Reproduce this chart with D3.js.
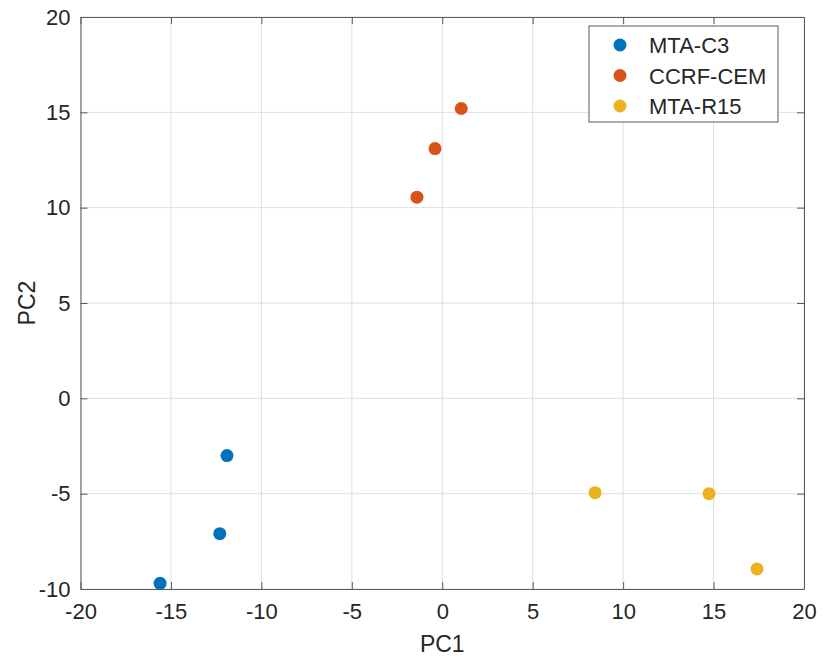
<!DOCTYPE html>
<html>
<head>
<meta charset="utf-8">
<script src="https://cdn.jsdelivr.net/npm/d3@7"></script>
<style>
  body { margin: 0; background: #fff; }
  text { font-family: "Liberation Sans", Arial, sans-serif; fill: #262626; }
</style>
</head>
<body>
<svg id="scatter" width="824" height="659"></svg>
<script>
// groups and their PCA scores
const groups = ['MTA-C3', 'CCRF-CEM', 'MTA-R15'];
const colors = ['#0072BD', '#D95319', '#EDB120'];
const pc1 = [
  [-15.6, -11.9, -12.3],
  [1.05, -0.4, -1.4],
  [8.45, 14.75, 17.4]
];
const pc2 = [
  [-9.7, -3.0, -7.1],
  [15.2, 13.1, 10.55],
  [-4.95, -5.0, -8.95]
];
const xTicks = [-20, -15, -10, -5, 0, 5, 10, 15, 20];
const yTicks = [-10, -5, 0, 5, 10, 15, 20];

const svg = d3.select('#scatter');
const margin = { top: 17, left: 80.5 };
const innerWidth = 804 - margin.left;
const innerHeight = 589 - margin.top;

const x = d3.scaleLinear().domain([-20, 20]).range([0, innerWidth]);
const y = d3.scaleLinear().domain([-10, 20]).range([innerHeight, 0]);

const g = svg.append('g')
    .attr('transform', `translate(${margin.left},${margin.top})`);

// grid
g.append('g')
    .selectAll('line')
    .data(xTicks)
    .join('line')
    .attr('x1', d => x(d)).attr('x2', d => x(d))
    .attr('y1', 0).attr('y2', innerHeight)
    .attr('stroke', '#dfdfdf').attr('stroke-width', 1);
g.append('g')
    .selectAll('line')
    .data(yTicks)
    .join('line')
    .attr('y1', d => y(d)).attr('y2', d => y(d))
    .attr('x1', 0).attr('x2', innerWidth)
    .attr('stroke', '#dfdfdf').attr('stroke-width', 1);

// axes with inward ticks, plain hyphen minus like the original
const fmt = d => String(d);
const xAxis = d3.axisBottom(x).tickValues(xTicks).tickSize(-7).tickPadding(14).tickSizeOuter(0).tickFormat(fmt);
const yAxis = d3.axisLeft(y).tickValues(yTicks).tickSize(-7).tickPadding(10).tickSizeOuter(0).tickFormat(fmt);

const xAxisG = g.append('g').attr('transform', `translate(0,${innerHeight})`).call(xAxis);
const yAxisG = g.append('g').call(yAxis);
const xTopG = g.append('g').call(d3.axisTop(x).tickValues(xTicks).tickSize(-7).tickSizeOuter(0).tickFormat(''));
const yRightG = g.append('g').attr('transform', `translate(${innerWidth},0)`)
    .call(d3.axisRight(y).tickValues(yTicks).tickSize(-7).tickSizeOuter(0).tickFormat(''));

[xAxisG, yAxisG, xTopG, yRightG].forEach(a => {
  a.selectAll('.domain').attr('stroke', '#5a5a5a');
  a.selectAll('.tick line').attr('stroke', '#5a5a5a');
  a.selectAll('.tick text').style('font-size', '22px').attr('fill', '#262626')
      .style('font-family', '"Liberation Sans", Arial, sans-serif');
});

// points
groups.forEach((name, i) => {
  const pts = pc1[i].map((v, j) => ({ x: v, y: pc2[i][j] }));
  g.append('g')
    .selectAll('circle')
    .data(pts)
    .join('circle')
    .attr('cx', d => x(d.x))
    .attr('cy', d => y(d.y))
    .attr('r', 6.5)
    .attr('fill', colors[i]);
});

// axis labels
svg.append('text')
    .attr('x', margin.left + innerWidth / 2)
    .attr('y', 652)
    .attr('text-anchor', 'middle')
    .style('font-size', '23px')
    .text('PC1');

svg.append('text')
    .attr('transform', `translate(35,${margin.top + innerHeight / 2}) rotate(-90)`)
    .attr('text-anchor', 'middle')
    .style('font-size', '23px')
    .text('PC2');

// legend
const legend = svg.append('g').attr('transform', 'translate(589,26)');
legend.append('rect')
    .attr('width', 189).attr('height', 96)
    .attr('fill', '#fff').attr('stroke', '#5a5a5a').attr('stroke-width', 1);
groups.forEach((name, i) => {
  const row = legend.append('g').attr('transform', `translate(0,${19 + i * 30.5})`);
  row.append('circle').attr('cx', 31).attr('cy', 0).attr('r', 6.5).attr('fill', colors[i]);
  row.append('text').attr('x', 60).attr('y', 8).style('font-size', '22px').attr('fill', '#000').text(name);
});
</script>
</body>
</html>
